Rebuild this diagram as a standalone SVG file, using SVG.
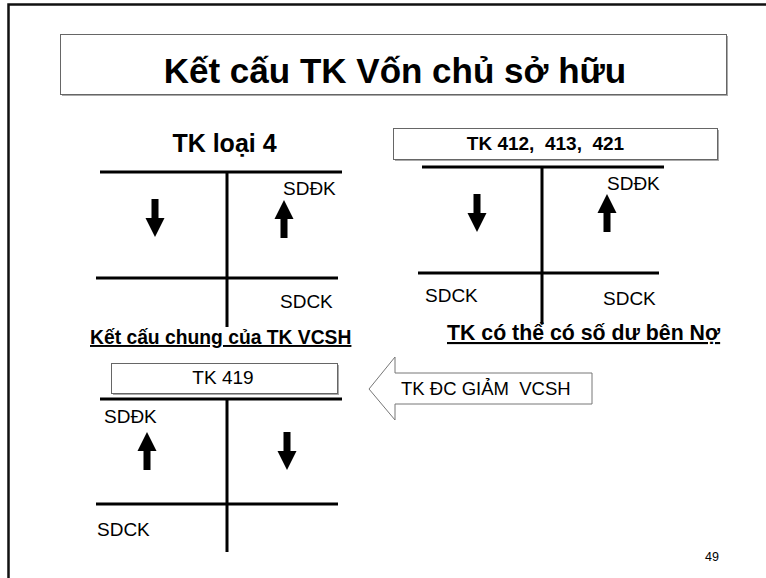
<svg xmlns="http://www.w3.org/2000/svg" width="766" height="578" viewBox="0 0 766 578">
<defs>
<style>
text{font-family:"Liberation Sans",Arial,sans-serif;fill:#000;white-space:pre}
.b{font-weight:bold}
.tl{stroke:#000;stroke-width:3;fill:none}
.box{fill:#fff;stroke:#666;stroke-width:1}
.sh{fill:#aaa}
.lbl{font-size:19px}
</style>
<path id="dn" d="M-3.5,0 H3.5 V19 H9.5 L0,38 L-9.5,19 H-3.5 Z"/>
<path id="up" d="M0,0 L9.5,19 H3.5 V38 H-3.5 V19 H-9.5 Z"/>
</defs>
<rect width="766" height="578" fill="#fff"/>
<g id="frame">
<path d="M8.5,578 V4.5 H766" fill="none" stroke="#111" stroke-width="2.5"/>
</g>
<g id="title">
<rect class="sh" x="62" y="94" width="666" height="2"/>
<rect class="sh" x="726" y="36" width="2" height="60"/>
<rect class="box" x="60.5" y="34.5" width="666" height="60"/>
<text class="b" x="395" y="83" font-size="35" text-anchor="middle">Kết cấu TK Vốn chủ sở hữu</text>
</g>
<g id="acc1">
<text class="b" x="224.5" y="152" font-size="25" text-anchor="middle">TK loại 4</text>
<path class="tl" d="M100,172 H342 M227,172 V327 M96,278 H338"/>
<use href="#dn" x="155" y="199"/>
<use href="#up" x="284" y="200"/>
<text class="lbl" x="283" y="195">SDĐK</text>
<text class="lbl" x="280" y="308">SDCK</text>
<text class="b" x="90" y="344" font-size="19.3" text-decoration="underline">Kết cấu chung của TK VCSH</text>
</g>
<g id="acc2">
<rect class="sh" x="395" y="159" width="324" height="2"/>
<rect class="sh" x="717" y="130" width="2" height="31"/>
<rect class="box" x="393.5" y="128.5" width="324" height="31"/>
<text class="b" x="545.5" y="150" font-size="19" text-anchor="middle">TK 412,  413,  421</text>
<path class="tl" d="M422,167 H664 M542,167 V324 M418,273 H659"/>
<use href="#dn" x="477" y="194"/>
<use href="#up" x="607" y="194"/>
<text class="lbl" x="607" y="190">SDĐK</text>
<text class="lbl" x="425" y="302">SDCK</text>
<text class="lbl" x="603" y="305">SDCK</text>
<text class="b" x="447" y="340" font-size="21.3" text-decoration="underline">TK có thể có số dư bên Nợ</text>
</g>
<g id="acc3">
<rect class="sh" x="113" y="393" width="226" height="2"/>
<rect class="sh" x="337" y="365" width="2" height="30"/>
<rect class="box" x="111.5" y="363.5" width="226" height="30"/>
<text x="223" y="384" font-size="19" text-anchor="middle">TK 419</text>
<path class="tl" d="M100,399 H342 M227,399 V552 M96,504 H338"/>
<use href="#up" x="147" y="432"/>
<use href="#dn" x="287" y="432"/>
<text class="lbl" x="104" y="423">SDĐK</text>
<text class="lbl" x="97" y="536">SDCK</text>
</g>
<g id="callout">
<path d="M369,389 L395,357 V373 H592 V404 H395 V420 Z" fill="#fff" stroke="#777" stroke-width="1"/>
<text x="401" y="395" font-size="18.5">TK ĐC GIẢM  VCSH</text>
</g>
<text x="705" y="561" font-size="12.5">49</text>
</svg>
